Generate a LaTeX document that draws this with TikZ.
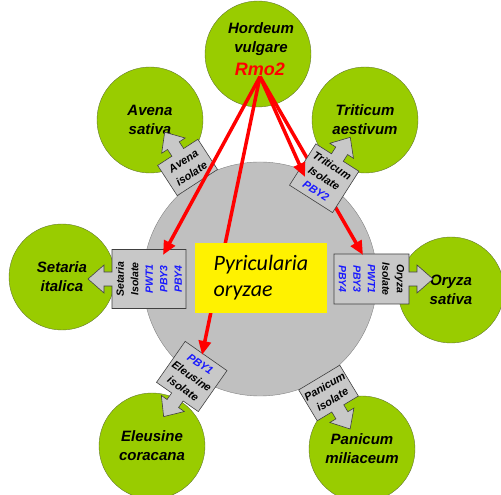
\documentclass[tikz,border=0pt]{standalone}
\usepackage{fontspec}
\setsansfont{Liberation Sans}
\newfontfamily\pyrfont{Carlito}
\usetikzlibrary{arrows.meta}
\definecolor{leaf}{RGB}{153,204,0}
\definecolor{leafline}{RGB}{100,120,50}
\definecolor{fungus}{RGB}{192,192,192}
\definecolor{fungusline}{RGB}{130,130,130}
\definecolor{isogray}{RGB}{200,200,200}
\definecolor{pbyblue}{RGB}{25,25,255}
\begin{document}
\begin{tikzpicture}[x=1pt,y=1pt,
	spname/.style={align=center,inner sep=0pt,font=\sffamily\bfseries\itshape\fontsize{15}{19}\selectfont},
	species/.style={spname,circle,draw=leafline,fill=leaf,minimum size=106pt},
	isolate/.style={draw=black!75,fill=isogray,line width=0.6pt},
	isotext/.style={align=center,inner sep=0pt,font=\sffamily\bfseries\itshape\fontsize{11}{15}\selectfont},
	rmoarrow/.style={red,line width=3.5pt,-{Triangle[length=14pt,width=12pt]}}]
	\useasboundingbox (0,0) rectangle (501,495);
	%fungus------------------------------------
	\node[circle,draw=fungusline,fill=fungus,minimum size=234pt] (fungus) at (260,216) {};
	%host plants-------------------------------
	\node[species] (hordeum) at (258,441) {};
	\node[spname] (hordeum-name) at (261,456) {Hordeum\\vulgare}; %Hordeum label
	\node[species] (avena) at (150,375) {Avena\\sativa};
	\node[species] (triticum) at (365,375) {Triticum\\aestivum};
	\node[species] (setaria) at (62,218) {Setaria\\italica};
	\node[species] (oryza) at (451,205) {Oryza\\sativa};
	\node[species] (eleusine) at (152,49) {Eleusine\\coracana};
	\node[species] (panicum) at (362,46) {Panicum\\miliaceum};
	\node[red,inner sep=1pt,font=\sffamily\bfseries\itshape\fontsize{18}{20}\selectfont] (rmo) at (260,426) {Rmo2}; %resistance gene
	%isolate boxes-----------------------------
		%angle/inner/outer/width
		\foreach \ang/\inr/\outr/\wid in {180/74/148/59, 0/74/149/50, 123/115/151/48, 235/94/144/51, 301/115/151/48}
			\draw[isolate,shift={(fungus.center)},rotate=\ang] (\inr,-\wid/2) -- (\outr,-\wid/2) -- (\outr,-7) -- (\outr+8,-7) -- (\outr+8,-14) -- (\outr+24,0) -- (\outr+8,14) -- (\outr+8,7) -- (\outr,7) -- (\outr,\wid/2) -- (\inr,\wid/2) -- cycle;
		%labels
		\node[isotext,rotate=90,font=\sffamily\bfseries\itshape\fontsize{10.5}{14.5}\selectfont] (setaria-iso) at ([shift={(180:111)}]fungus.center) {Setaria\\Isolate\\{\color{pbyblue}PWT1}\\{\color{pbyblue}PBY3}\\{\color{pbyblue}PBY4}};
		\node[isotext,rotate=-90,font=\sffamily\bfseries\itshape\fontsize{10.5}{14.5}\selectfont] (oryza-iso) at ([shift={(0:111.5)}]fungus.center) {Oryza\\Isolate\\{\color{pbyblue}PWT1}\\{\color{pbyblue}PBY3}\\{\color{pbyblue}PBY4}};
		\node[isotext,rotate=33] (avena-iso) at ([shift={(123:133)}]fungus.center) {Avena\\isolate};
		\node[isotext,rotate=325] (eleusine-iso) at ([shift={(235:119)}]fungus.center) {{\color{pbyblue}PBY1}\\Eleusine\\isolate};
		\node[isotext,rotate=31] (panicum-iso) at ([shift={(301:133)}]fungus.center) {Panicum\\isolate};
	%Rmo2 arrows-------------------------------
	\coordinate (setaria-hit) at (163,240);
	\coordinate (oryza-hit) at (363,240);
	\coordinate (triticum-hit) at (305,318);
	\coordinate (eleusine-hit) at (202,140);
	\draw[rmoarrow] (rmo.south) -- (oryza-hit); %under Triticum box
	%Triticum box
	\draw[isolate,shift={(fungus.center)},rotate=57.5] (95,-25.5) -- (144,-25.5) -- (144,-7) -- (152,-7) -- (152,-14) -- (168,0) -- (152,14) -- (152,7) -- (144,7) -- (144,25.5) -- (95,25.5) -- cycle;
	\node[isotext,rotate=-32.5] (triticum-iso) at ([shift={(57.5:119.5)}]fungus.center) {Triticum\\Isolate\\{\color{pbyblue}PBY2}};
	\draw[rmoarrow] (rmo.south) -- (triticum-hit);
	\draw[rmoarrow] (rmo.south) -- (setaria-hit);
	\draw[rmoarrow] (rmo.south) -- (eleusine-hit);
	%pathogen label----------------------------
	\node[fill=yellow,minimum width=132pt,minimum height=70pt,align=left,font=\pyrfont\itshape\fontsize{22}{26}\selectfont] (pyricularia) at (261,217) {Pyricularia\\oryzae};
\end{tikzpicture}
\end{document}
